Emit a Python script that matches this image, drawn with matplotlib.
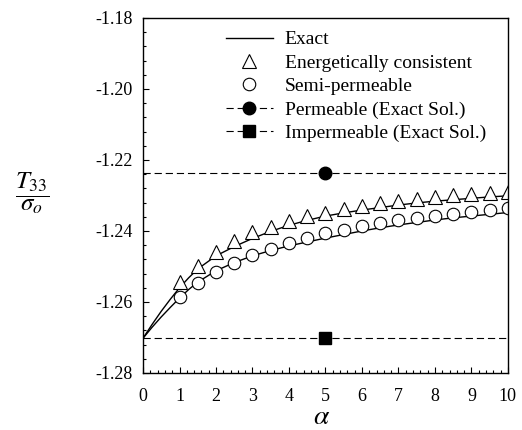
import numpy as np
import matplotlib
matplotlib.use("Agg")
import matplotlib.pyplot as plt
from matplotlib.ticker import MultipleLocator, FormatStrFormatter
from matplotlib.lines import Line2D

plt.rcParams["font.family"] = ["Liberation Serif", "DejaVu Serif"]
plt.rcParams["mathtext.fontset"] = "stix"

# exact solution curves
alpha_exact = [0, 0.25, 0.5, 0.75, 1, 1.25, 1.5, 2, 2.5, 3, 3.5, 4, 4.5, 5, 5.5, 6, 6.5, 7, 7.5, 8,
               8.5, 9, 9.5, 10]
exact_energ = [-1.2702, -1.2663, -1.2626, -1.2592, -1.2560, -1.2532, -1.2507, -1.2470, -1.2444,
               -1.2421, -1.2401, -1.2384, -1.2370, -1.2358, -1.2349, -1.2341, -1.2334, -1.2327,
               -1.2321, -1.2316, -1.2312, -1.2308, -1.2304, -1.2301]
exact_semi = [-1.2702, -1.2671, -1.2642, -1.2615, -1.2589, -1.2565, -1.2544, -1.2512, -1.2489,
              -1.2470, -1.2455, -1.2442, -1.2431, -1.2420, -1.2410, -1.2400, -1.2391, -1.2383,
              -1.2376, -1.2369, -1.2363, -1.2358, -1.2353, -1.2348]

# approximate solutions
alpha_pts = [1, 1.5, 2, 2.5, 3, 3.5, 4, 4.5, 5, 5.5, 6, 6.5, 7, 7.5, 8, 8.5, 9, 9.5, 10]
energ_pts = [-1.2543, -1.2499, -1.2458, -1.2428, -1.2404, -1.2388, -1.2371, -1.2358, -1.2348, -1.2339,
             -1.2330, -1.2321, -1.2315, -1.2309, -1.2303, -1.2298, -1.2295, -1.2292, -1.2289]
semi_pts = [-1.2587, -1.2547, -1.2516, -1.2491, -1.2469, -1.2451, -1.2433, -1.2419, -1.2407, -1.2396,
            -1.2387, -1.2378, -1.2370, -1.2363, -1.2357, -1.2351, -1.2346, -1.2341, -1.2336]

# limiting cases
permeable = -1.2238
impermeable = -1.2702
alpha_mark = 5

dash = (0, (6.5, 3.5))

fig = plt.figure(figsize=(5.22, 4.30), dpi=100)
ax = fig.add_axes([0.274, 0.1326, 0.699, 0.8256])

ax.plot(alpha_exact, exact_energ, color="black", lw=1.0)
ax.plot(alpha_exact, exact_semi, color="black", lw=1.0)
ax.plot(alpha_pts, energ_pts, ls="none", marker="^", ms=9.5, mfc="white", mec="black", mew=0.8)
ax.plot(alpha_pts, semi_pts, ls="none", marker="o", ms=9, mfc="white", mec="black", mew=0.8)

ax.axhline(permeable, color="black", lw=0.8, ls=dash)
ax.axhline(impermeable, color="black", lw=0.8, ls=dash)
ax.plot([alpha_mark], [permeable], marker="o", ms=9, color="black", ls="none")
ax.plot([alpha_mark], [impermeable], marker="s", ms=8, color="black", ls="none")

ax.set_xlim(0, 10)
ax.set_ylim(-1.28, -1.18)
ax.xaxis.set_major_locator(MultipleLocator(1))
ax.xaxis.set_minor_locator(MultipleLocator(0.2))
ax.yaxis.set_major_locator(MultipleLocator(0.02))
ax.yaxis.set_minor_locator(MultipleLocator(0.004))
ax.yaxis.set_major_formatter(FormatStrFormatter("%.2f"))
ax.tick_params(which="both", direction="in", top=False, right=False, labelsize=13, width=0.8)
ax.tick_params(which="major", length=4)
ax.tick_params(which="minor", length=2.3)
ax.tick_params(axis="x", which="major", pad=11)
ax.tick_params(axis="y", which="major", pad=7.7)
for s in ax.spines.values():
    s.set_linewidth(1.0)

fig.text(0.617, 0.015, r"$\alpha$", fontsize=20, ha="center", va="baseline")
fig.text(0.062, 0.551, r"$\dfrac{T_{33}}{\sigma_o}$", fontsize=18, ha="center", va="center")

handles = [
    Line2D([], [], color="black", lw=1.0),
    Line2D([], [], ls="none", marker="^", ms=9.5, mfc="white", mec="black", mew=0.8),
    Line2D([], [], ls="none", marker="o", ms=9, mfc="white", mec="black", mew=0.8),
    Line2D([], [], color="black", lw=0.8, ls=dash, marker="o", ms=9),
    Line2D([], [], color="black", lw=0.8, ls=dash, marker="s", ms=8),
]
labels = ["Exact", "Energetically consistent", "Semi-permeable",
          "Permeable (Exact Sol.)", "Impermeable (Exact Sol.)"]
ax.legend(handles, labels, loc="upper left", bbox_to_anchor=(0.227, 0.964), frameon=False,
          fontsize=14, handlelength=2.41, handletextpad=0.62, labelspacing=0.3, borderpad=0,
          borderaxespad=0)

fig.savefig("out.png", dpi=100)
